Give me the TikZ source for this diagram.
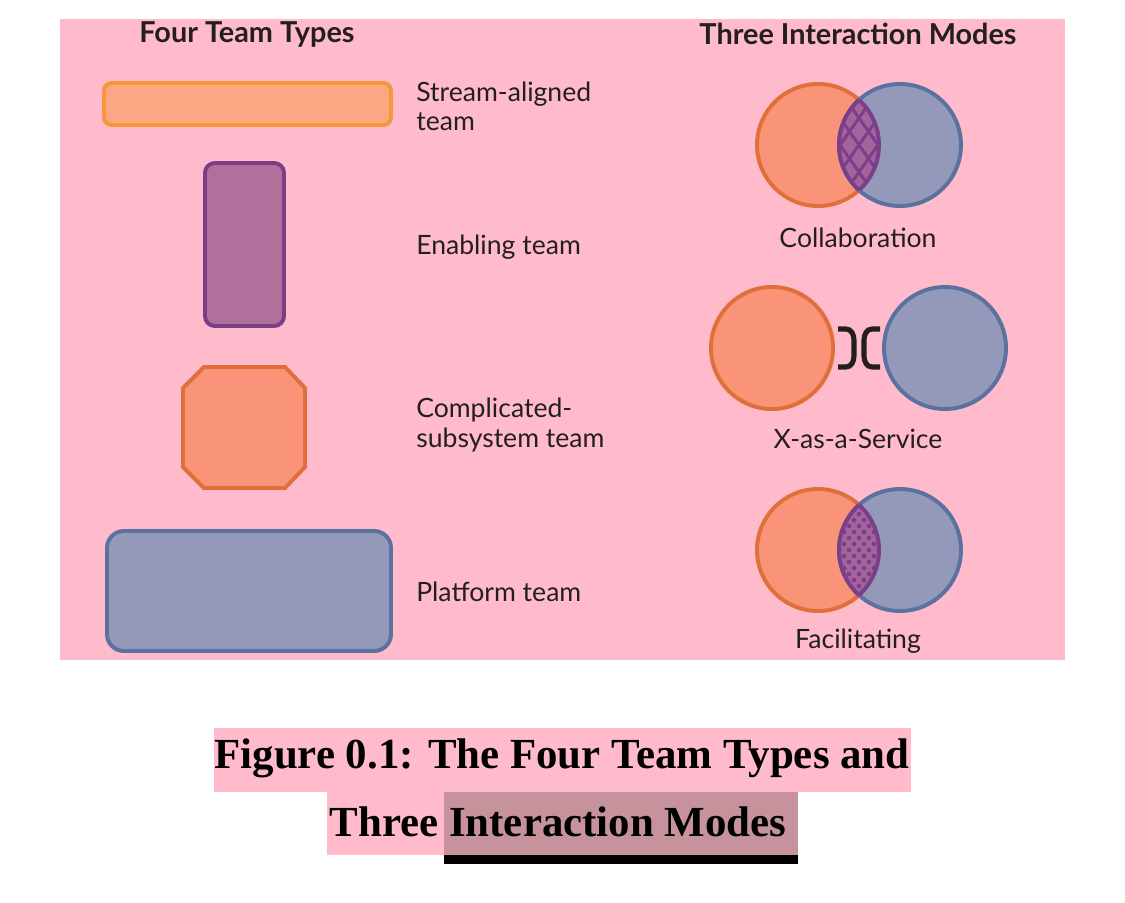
\documentclass[tikz,border=0pt]{standalone}
\usepackage{fontspec}
\setmainfont{Lato}
\newfontfamily\capfont{Liberation Serif}

\definecolor{panelpink}{RGB}{255,187,204}
\definecolor{capmauve}{RGB}{198,147,157}
\definecolor{inkgray}{RGB}{35,31,32}
\definecolor{streamfill}{RGB}{251,167,132}
\definecolor{streamline}{RGB}{246,152,54}
\definecolor{enablefill}{RGB}{176,112,156}
\definecolor{enableline}{RGB}{122,62,135}
\definecolor{compfill}{RGB}{249,148,120}
\definecolor{compline}{RGB}{224,112,58}
\definecolor{platfill}{RGB}{148,153,186}
\definecolor{platline}{RGB}{91,114,160}
\definecolor{lensfill}{RGB}{165,99,155}
\definecolor{lensline}{RGB}{123,63,138}

\tikzset{
  shapeline/.style={line width=2.8pt},
  teamlabel/.style={anchor=west,align=left,inner sep=0pt,text=inkgray,
    font=\fontsize{18.9}{20.8}\selectfont},
  modelabel/.style={inner sep=0pt,text=inkgray,font=\fontsize{18.9}{20.8}\selectfont},
  headlabel/.style={inner sep=0pt,text=inkgray,font=\bfseries\fontsize{20.5}{23}\selectfont},
  caplabel/.style={inner sep=0pt,text=black,font=\capfont\bfseries\fontsize{30.5}{34}\selectfont},
  orangecirc/.style={shapeline,draw=compline,fill=compfill},
  bluecirc/.style={shapeline,draw=platline,fill=platfill},
  hatchline/.style={line width=2.1pt,draw=lensline},
}

\begin{document}
\begin{tikzpicture}[x=0.025cm,y=-0.025cm]
  \useasboundingbox (0,0) rectangle (1125,902);
  \fill[white] (0,0) rectangle (1125,902);
  \fill[panelpink] (60,19) rectangle (1065,660);

  % headings
  \node[headlabel] (teamhead) at (247,34) {Four Team Types};
  \node[headlabel] (modehead) at (858,34) {Three Interaction Modes};

  % team types
  \draw[shapeline,draw=streamline,fill=streamfill,rounded corners=5.5pt]
    (104,83) rectangle (391,125);
  \draw[shapeline,draw=enableline,fill=enablefill,rounded corners=7pt]
    (205,163) rectangle (284,326);
  \draw[shapeline,draw=compline,fill=compfill]
    (204,367) -- (285,367) -- (305,388) -- (305,467) -- (285,488)
    -- (204,488) -- (183,467) -- (183,388) -- cycle;
  \draw[shapeline,draw=platline,fill=platfill,rounded corners=12pt]
    (107,531) rectangle (391,651);

  \node[teamlabel] (streamlabel) at (416,106) {Stream-aligned\\team};
  \node[teamlabel] (enablelabel) at (416,247) {Enabling team};
  \node[teamlabel] (complabel) at (416,425) {Complicated-\\subsystem team};
  \node[teamlabel] (platlabel) at (416,592) {Platform team};

  % collaboration
  \draw[orangecirc] (818,145) circle (61);
  \draw[bluecirc] (900,145) circle (61);
  \begin{scope}
    \clip (818,145) circle (61);
    \clip (900,145) circle (61);
    \fill[lensfill] (790,70) rectangle (930,220);
    \foreach \k in {-3,...,3} {
      \draw[hatchline] (859+\k*19,145) ++(-45,-64) -- ++(90,128);
      \draw[hatchline] (859+\k*19,145) ++(45,-64) -- ++(-90,128);
    }
  \end{scope}
  \begin{scope}
    \clip (818,145) circle (61);
    \draw[shapeline,draw=lensline] (900,145) circle (61);
  \end{scope}
  \begin{scope}
    \clip (900,145) circle (61);
    \draw[shapeline,draw=lensline] (818,145) circle (61);
  \end{scope}
  \node[modelabel] (collablabel) at (858,238) {Collaboration};

  % x-as-a-service
  \draw[orangecirc] (772,348) circle (61);
  \draw[bluecirc] (945,348) circle (61);
  \draw[line width=3.6pt,draw=inkgray]
    (838,329) -- (846,329) to[out=0,in=90] (854,340) -- (854,356)
    to[out=-90,in=0] (846,367) -- (838,367);
  \draw[line width=3.6pt,draw=inkgray]
    (880,329) -- (872,329) to[out=180,in=90] (864,340) -- (864,356)
    to[out=-90,in=180] (872,367) -- (880,367);
  \node[modelabel] (xaaslabel) at (858,439) {X-as-a-Service};

  % facilitating
  \draw[orangecirc] (818,550) circle (61);
  \draw[bluecirc] (900,550) circle (61);
  \begin{scope}
    \clip (818,550) circle (61);
    \clip (900,550) circle (61);
    \fill[lensfill] (790,480) rectangle (930,620);
    \foreach \j in {-11,...,11} {
      \foreach \i in {-3,...,3} {
        \fill[lensline] ({859+10*\i+5*mod(abs(\j),2)},{550+6*\j}) circle (2.3);
      }
    }
  \end{scope}
  \begin{scope}
    \clip (818,550) circle (61);
    \draw[shapeline,draw=lensline] (900,550) circle (61);
  \end{scope}
  \begin{scope}
    \clip (900,550) circle (61);
    \draw[shapeline,draw=lensline] (818,550) circle (61);
  \end{scope}
  \node[modelabel] (facillabel) at (858,641) {Facilitating};

  % caption
  \fill[panelpink] (214,728) rectangle (911,792);
  \fill[panelpink] (327,792) rectangle (444,855);
  \fill[capmauve] (444,792) rectangle (798,855);
  \fill[black] (444,855) rectangle (798,864);
  \node[caplabel] (capone) at (562,758) {Figure 0.1: The Four Team Types and};
  \node[caplabel] (captwo) at (558,822) {Three Interaction Modes};
\end{tikzpicture}
\end{document}
